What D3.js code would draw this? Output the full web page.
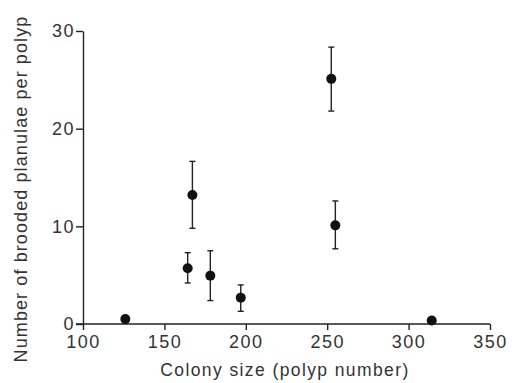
<!DOCTYPE html>
<html>
<head>
<meta charset="utf-8">
<script src="https://cdn.jsdelivr.net/npm/d3@7"></script>
<style>
	body { margin: 0; background: #fff; }
	text { font-family: "Liberation Sans", Arial, sans-serif; fill: #333; }
</style>
</head>
<body>
<svg id="plot" width="512" height="383" viewBox="0 0 512 383"></svg>
<script>

// colony size (polyp number)
const colonySize = [126, 164.3, 167.2, 178.2, 196.9, 252.5, 255, 314.2];
// mean brooded planulae per polyp
const planulae = [0.5, 5.7, 13.2, 4.95, 2.7, 25.1, 10.1, 0.35];
// error bar half-widths
const errLow = [0.5, 1.5, 3.4, 2.55, 1.4, 3.3, 2.4, 0];
const errHigh = [0.5, 1.6, 3.45, 2.55, 1.3, 3.25, 2.5, 0];

const xTicks = [100, 150, 200, 250, 300, 350];
const yTicks = [0, 10, 20, 30];

const svg = d3.select('#plot');
const ink = '#222';

const x = d3.scaleLinear().domain([100, 350]).range([83, 490]);
const y = d3.scaleLinear().domain([0, 30]).range([324, 31]);

// x axis
const xAxis = svg.append('g')
	.attr('transform', 'translate(0,' + y(0) + ')')
	.call(d3.axisBottom(x).tickValues(xTicks).tickSize(6).tickSizeOuter(0).tickPadding(5));
xAxis.select('.domain').attr('d', 'M' + (x(100) - 7) + ',0H' + x(350));

// y axis
const yAxis = svg.append('g')
	.attr('transform', 'translate(' + x(100) + ',0)')
	.call(d3.axisLeft(y).tickValues(yTicks).tickSize(7).tickSizeOuter(0).tickPadding(1));

svg.selectAll('.domain, .tick line').attr('stroke', ink).attr('stroke-width', 1.4);
svg.selectAll('.tick text')
	.attr('font-size', 18)
	.attr('letter-spacing', 1.5)
	.attr('fill', '#333');
yAxis.selectAll('.tick text').attr('dy', '0.32em');

// axis titles
svg.append('text')
	.attr('x', 285)
	.attr('y', 376)
	.attr('text-anchor', 'middle')
	.attr('font-size', 17.5)
	.attr('letter-spacing', 1.4)
	.text('Colony size (polyp number)');

svg.append('text')
	.attr('transform', 'translate(27,189) rotate(-90)')
	.attr('text-anchor', 'middle')
	.attr('font-size', 18)
	.attr('letter-spacing', 1.1)
	.text('Number of brooded planulae per polyp');

// error bars
const pts = colonySize.map((c, i) => ({ c: c, v: planulae[i], lo: errLow[i], hi: errHigh[i] }));
const bars = svg.append('g').selectAll('g')
	.data(pts.filter(d => d.lo > 0 && d.v > 1))
	.enter().append('g')
	.attr('stroke', ink)
	.attr('stroke-width', 1.4);

bars.append('line')
	.attr('x1', d => x(d.c)).attr('x2', d => x(d.c))
	.attr('y1', d => y(d.v + d.hi)).attr('y2', d => y(d.v - d.lo));
bars.append('line')
	.attr('x1', d => x(d.c) - 3).attr('x2', d => x(d.c) + 3)
	.attr('y1', d => y(d.v + d.hi)).attr('y2', d => y(d.v + d.hi));
bars.append('line')
	.attr('x1', d => x(d.c) - 3).attr('x2', d => x(d.c) + 3)
	.attr('y1', d => y(d.v - d.lo)).attr('y2', d => y(d.v - d.lo));

// points
svg.append('g').selectAll('circle')
	.data(pts)
	.enter().append('circle')
	.attr('cx', d => x(d.c))
	.attr('cy', d => y(d.v))
	.attr('r', 5)
	.attr('fill', '#111');

</script>
</body>
</html>
